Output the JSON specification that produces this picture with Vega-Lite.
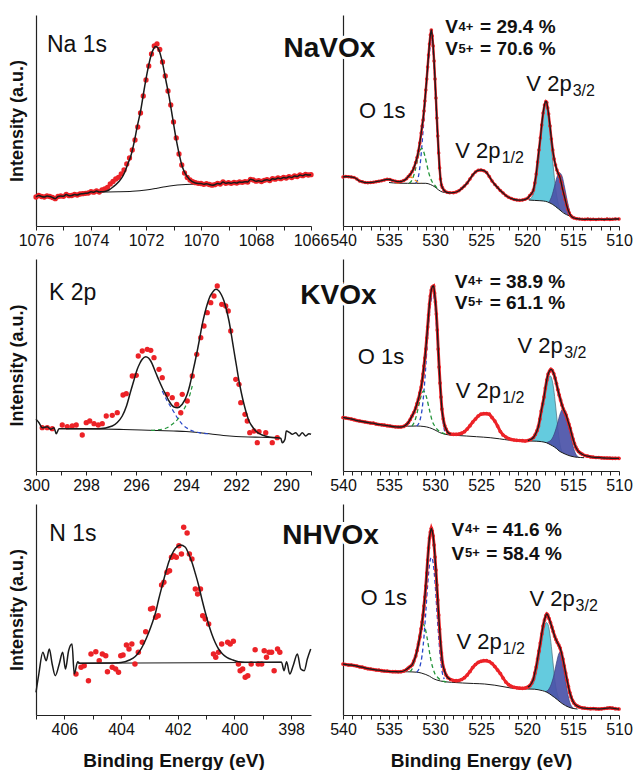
{
  "$schema": "https://vega.github.io/schema/vega-lite/v6.json",
  "background": "white",
  "padding": {"left": 8, "top": 15, "right": 10, "bottom": 0},
  "bounds": "flush",
  "columns": 2,
  "spacing": {"row": 33, "column": 32},
  "config": {
    "font": "Liberation Sans",
    "view": {"stroke": null},
    "axis": {
      "grid": false,
      "domainColor": "#222",
      "domainWidth": 1.2,
      "tickColor": "#222",
      "tickSize": 4,
      "labelFontSize": 16,
      "labelColor": "#111",
      "labelPadding": 2,
      "labelFlush": false,
      "labelOverlap": false,
      "titleFontSize": 19,
      "titleFontWeight": "bold",
      "titleColor": "#111"
    }
  },
  "datasets": {
    "na_pts": [
      {"x":1076.0,"y":29},{"x":1075.9,"y":30.5},{"x":1075.8,"y":29.5},{"x":1075.7,"y":29},{"x":1075.6,"y":30},{"x":1075.5,"y":29.5},{"x":1075.4,"y":28.5},{"x":1075.3,"y":27.3},{"x":1075.2,"y":29.5},{"x":1075.1,"y":30},{"x":1075.0,"y":29.7},{"x":1074.9,"y":31.5},{"x":1074.8,"y":30.3},{"x":1074.7,"y":30.5},{"x":1074.6,"y":31.5},{"x":1074.5,"y":31},{"x":1074.4,"y":32},{"x":1074.3,"y":32.3},{"x":1074.2,"y":32.7},{"x":1074.1,"y":33},{"x":1074.0,"y":34.3},{"x":1073.9,"y":33.8},{"x":1073.8,"y":35},{"x":1073.7,"y":34},{"x":1073.6,"y":36},{"x":1073.5,"y":37},{"x":1073.4,"y":38.7},{"x":1073.3,"y":42},{"x":1073.2,"y":44.5},{"x":1073.1,"y":47},{"x":1073.0,"y":48.7},{"x":1072.9,"y":52},{"x":1072.8,"y":56},{"x":1072.7,"y":62},{"x":1072.6,"y":68},{"x":1072.5,"y":76},{"x":1072.4,"y":86},{"x":1072.3,"y":99},{"x":1072.2,"y":113},{"x":1072.1,"y":130},{"x":1072.0,"y":146},{"x":1071.9,"y":160},{"x":1071.8,"y":172},{"x":1071.7,"y":180},{"x":1071.6,"y":182},{"x":1071.5,"y":176.5},{"x":1071.4,"y":164},{"x":1071.3,"y":150},{"x":1071.2,"y":135},{"x":1071.1,"y":121},{"x":1071.0,"y":104},{"x":1070.9,"y":88},{"x":1070.8,"y":72},{"x":1070.7,"y":61},{"x":1070.6,"y":53},{"x":1070.5,"y":48.5},{"x":1070.4,"y":46},{"x":1070.3,"y":44.3},{"x":1070.2,"y":43.3},{"x":1070.1,"y":42.7},
      {"x":1070.0,"y":42.5},{"x":1069.9,"y":41.7},{"x":1069.8,"y":42.3},{"x":1069.7,"y":41.5},{"x":1069.6,"y":40.8},{"x":1069.5,"y":41.3},{"x":1069.4,"y":42.5},{"x":1069.3,"y":42},{"x":1069.2,"y":44},{"x":1069.1,"y":42.7},{"x":1069.0,"y":43.3},{"x":1068.9,"y":42.7},{"x":1068.8,"y":43.5},{"x":1068.7,"y":43},{"x":1068.6,"y":44},{"x":1068.5,"y":43.7},{"x":1068.4,"y":44.3},{"x":1068.3,"y":44},{"x":1068.2,"y":46.7},{"x":1068.1,"y":46},{"x":1068.0,"y":44.8},{"x":1067.9,"y":45.3},{"x":1067.8,"y":44.5},{"x":1067.7,"y":45.7},{"x":1067.6,"y":46.3},{"x":1067.5,"y":45.5},{"x":1067.4,"y":47.3},{"x":1067.3,"y":46.8},{"x":1067.2,"y":48},{"x":1067.1,"y":47.3},{"x":1067.0,"y":48.5},{"x":1066.9,"y":48},{"x":1066.8,"y":49.3},{"x":1066.7,"y":48.5},{"x":1066.6,"y":50},{"x":1066.5,"y":49.5},{"x":1066.4,"y":51},{"x":1066.3,"y":50.3},{"x":1066.2,"y":51.5},{"x":1066.1,"y":51},{"x":1066.0,"y":51.3}
    ],
    "na_line": [
      {"x":1076.0,"y":29},{"x":1075.9,"y":30.5},{"x":1075.8,"y":29.5},{"x":1075.7,"y":29},{"x":1075.6,"y":30},{"x":1075.5,"y":29.5},{"x":1075.4,"y":28.5},{"x":1075.3,"y":27.3},{"x":1075.2,"y":29.5},{"x":1075.1,"y":30},{"x":1075.0,"y":29.7},{"x":1074.9,"y":31.5},{"x":1074.8,"y":30.3},{"x":1074.7,"y":30.5},{"x":1074.6,"y":31.5},{"x":1074.5,"y":31},{"x":1074.4,"y":32},{"x":1074.3,"y":32.3},{"x":1074.2,"y":32.7},{"x":1074.1,"y":33},{"x":1074.0,"y":34.3},{"x":1073.9,"y":33.8},{"x":1073.8,"y":35},{"x":1073.7,"y":34},{"x":1073.6,"y":34.3},
      {"x":1073.5,"y":34.5},{"x":1073.35,"y":36},{"x":1073.2,"y":39},{"x":1073.0,"y":44},{"x":1072.85,"y":49.5},{"x":1072.74,"y":56},{"x":1072.65,"y":63},{"x":1072.56,"y":69.3},{"x":1072.44,"y":82.7},{"x":1072.32,"y":99.3},{"x":1072.19,"y":116},{"x":1072.07,"y":136},{"x":1071.95,"y":154.3},{"x":1071.83,"y":169.3},{"x":1071.72,"y":177.5},{"x":1071.65,"y":179.5},{"x":1071.58,"y":178.5},{"x":1071.53,"y":176},{"x":1071.41,"y":164.3},{"x":1071.28,"y":146},{"x":1071.16,"y":129.3},{"x":1071.04,"y":109.3},{"x":1070.92,"y":89.3},{"x":1070.8,"y":72.7},{"x":1070.68,"y":59.3},{"x":1070.5,"y":49.3},{"x":1070.32,"y":44.3},{"x":1070.1,"y":42.5},
      {"x":1070.0,"y":42.5},{"x":1069.9,"y":41.7},{"x":1069.8,"y":42.3},{"x":1069.7,"y":41.5},{"x":1069.6,"y":40.8},{"x":1069.5,"y":41.3},{"x":1069.4,"y":42.5},{"x":1069.3,"y":42},{"x":1069.2,"y":44},{"x":1069.1,"y":42.7},{"x":1069.0,"y":43.3},{"x":1068.9,"y":42.7},{"x":1068.8,"y":43.5},{"x":1068.7,"y":43},{"x":1068.6,"y":44},{"x":1068.5,"y":43.7},{"x":1068.4,"y":44.3},{"x":1068.3,"y":44},{"x":1068.2,"y":46.7},{"x":1068.1,"y":46},{"x":1068.0,"y":44.8},{"x":1067.9,"y":45.3},{"x":1067.8,"y":44.5},{"x":1067.7,"y":45.7},{"x":1067.6,"y":46.3},{"x":1067.5,"y":45.5},{"x":1067.4,"y":47.3},{"x":1067.3,"y":46.8},{"x":1067.2,"y":48},{"x":1067.1,"y":47.3},{"x":1067.0,"y":48.5},{"x":1066.9,"y":48},{"x":1066.8,"y":49.3},{"x":1066.7,"y":48.5},{"x":1066.6,"y":50},{"x":1066.5,"y":49.5},{"x":1066.4,"y":51},{"x":1066.3,"y":50.3},{"x":1066.2,"y":51.5},{"x":1066.1,"y":51},{"x":1066.0,"y":51.3}
    ],
    "na_bg": [
      {"x":1073.6,"y":34},{"x":1073.0,"y":34.2},{"x":1072.5,"y":34.7},{"x":1072.0,"y":36},{"x":1071.6,"y":37.8},{"x":1071.3,"y":39.3},{"x":1071.0,"y":40.5},{"x":1070.7,"y":41.3},{"x":1070.3,"y":41.8},{"x":1070.0,"y":42}
    ],
    "k_pts": [
      {"x":299.75,"y":43.3},{"x":299.55,"y":43.3},{"x":299.35,"y":42.3},{"x":298.95,"y":46},{"x":298.75,"y":44.3},{"x":298.55,"y":45},{"x":298.39,"y":46},{"x":298.15,"y":36},{"x":297.99,"y":48.3},{"x":297.85,"y":50},{"x":297.68,"y":47.3},{"x":297.51,"y":46},{"x":297.35,"y":47.3},{"x":297.19,"y":55},{"x":296.95,"y":55.7},{"x":296.75,"y":58.3},{"x":296.52,"y":76},{"x":296.39,"y":77.3},{"x":296.15,"y":95},{"x":295.99,"y":95.7},{"x":295.91,"y":115},{"x":295.75,"y":120},{"x":295.55,"y":121.7},{"x":295.41,"y":120.7},{"x":295.28,"y":113.3},{"x":295.08,"y":101.7},{"x":294.95,"y":93.3},{"x":294.75,"y":76.7},{"x":294.55,"y":73.3},{"x":294.37,"y":66.7},{"x":294.21,"y":58.3},{"x":294.15,"y":76.7},{"x":293.95,"y":70},{"x":293.75,"y":95},{"x":293.57,"y":116.7},{"x":293.41,"y":133.3},{"x":293.28,"y":145},{"x":293.15,"y":158.3},{"x":293.01,"y":168.3},{"x":292.88,"y":175},{"x":292.75,"y":185},{"x":292.57,"y":166.7},{"x":292.41,"y":165},{"x":292.31,"y":160},{"x":292.21,"y":140},{"x":292.01,"y":91.7},{"x":291.88,"y":86.7},{"x":291.81,"y":68.3},{"x":291.64,"y":56.7},{"x":291.55,"y":50},{"x":291.45,"y":38.3},{"x":291.28,"y":40},{"x":291.15,"y":28.3},{"x":291.08,"y":39.3},{"x":290.81,"y":38.3},{"x":290.55,"y":28.3},{"x":290.35,"y":33.3}
    ],
    "k_line": [
      {"x":300.0,"y":51.7},{"x":299.88,"y":48.3},{"x":299.75,"y":43.3},{"x":299.55,"y":44.3},{"x":299.41,"y":41.7},{"x":299.28,"y":43.3},{"x":299.19,"y":37.3},{"x":299.08,"y":42.3},{"x":298.81,"y":42.3},{"x":297.48,"y":42.3},{"x":296.95,"y":45},{"x":296.75,"y":48.5},{"x":296.55,"y":55},{"x":296.38,"y":65},{"x":296.21,"y":80},{"x":296.08,"y":91},{"x":295.95,"y":101.7},{"x":295.85,"y":107.5},{"x":295.75,"y":111.7},{"x":295.61,"y":114.3},{"x":295.5,"y":113},{"x":295.41,"y":110},{"x":295.21,"y":98.3},{"x":295.08,"y":90.5},{"x":294.95,"y":83.3},{"x":294.8,"y":76},{"x":294.68,"y":70},{"x":294.48,"y":64},{"x":294.35,"y":63.3},{"x":294.15,"y":66.7},{"x":293.95,"y":76.7},{"x":293.85,"y":85.5},{"x":293.75,"y":96.7},{"x":293.65,"y":108},{"x":293.55,"y":120},{"x":293.45,"y":133},{"x":293.35,"y":146.7},{"x":293.25,"y":157.5},{"x":293.15,"y":166.7},{"x":293.05,"y":174},{"x":292.95,"y":178.3},{"x":292.81,"y":181.7},{"x":292.68,"y":180},{"x":292.58,"y":176},{"x":292.48,"y":170},{"x":292.38,"y":161},{"x":292.28,"y":150},{"x":292.18,"y":135.5},{"x":292.08,"y":120},{"x":291.98,"y":105},{"x":291.88,"y":90},{"x":291.78,"y":77.5},{"x":291.68,"y":66.7},{"x":291.58,"y":57.5},{"x":291.48,"y":50},{"x":291.35,"y":44.5},{"x":291.21,"y":40},{"x":290.95,"y":36},{"x":290.68,"y":34},{"x":290.41,"y":33.3},{"x":290.21,"y":32.7},{"x":290.15,"y":28.3},{"x":290.04,"y":31.7},{"x":289.99,"y":40},{"x":289.85,"y":38.3},{"x":289.75,"y":36.7},{"x":289.61,"y":38.3},{"x":289.48,"y":35},{"x":289.35,"y":38.3},{"x":289.21,"y":35},{"x":289.08,"y":37.3},{"x":289.0,"y":36.7}
    ],
    "k_bg": [
      {"x":298.8,"y":42.3},{"x":297.5,"y":42},{"x":296.5,"y":41.5},{"x":295.5,"y":40.8},{"x":294.5,"y":40},{"x":294.0,"y":39.5},{"x":293.5,"y":38.5},{"x":293.0,"y":37},{"x":292.5,"y":35.5},{"x":292.0,"y":34.5},{"x":291.5,"y":34},{"x":291.0,"y":33.8},{"x":290.4,"y":33.3}
    ],
    "k_comp": [
      {"comp":"K 2p1/2","x":294.95,"y":80},{"comp":"K 2p1/2","x":294.75,"y":70},{"comp":"K 2p1/2","x":294.55,"y":61.7},{"comp":"K 2p1/2","x":294.35,"y":53.3},{"comp":"K 2p1/2","x":294.15,"y":46.7},{"comp":"K 2p1/2","x":293.88,"y":41.7},{"comp":"K 2p1/2","x":293.48,"y":38.3},{"comp":"K 2p1/2","x":293.1,"y":37.2},
      {"comp":"K 2p3/2","x":295.4,"y":40.6},{"comp":"K 2p3/2","x":295.21,"y":41},{"comp":"K 2p3/2","x":294.81,"y":42.7},{"comp":"K 2p3/2","x":294.55,"y":46.7},{"comp":"K 2p3/2","x":294.28,"y":53.3},{"comp":"K 2p3/2","x":294.08,"y":61.7},{"comp":"K 2p3/2","x":293.88,"y":73.3},{"comp":"K 2p3/2","x":293.75,"y":85}
    ],
    "n_pts": [
      {"x":405.59,"y":41},{"x":405.41,"y":47.7},{"x":405.3,"y":49.3},{"x":405.15,"y":34.3},{"x":405.06,"y":61},{"x":404.89,"y":63.3},{"x":404.77,"y":54.3},{"x":404.66,"y":61},{"x":404.54,"y":59.3},{"x":404.48,"y":43.3},{"x":404.31,"y":47.7},{"x":404.19,"y":46},{"x":404.09,"y":42.7},{"x":404.01,"y":59.3},{"x":403.93,"y":60},{"x":403.81,"y":70},{"x":403.72,"y":66},{"x":403.62,"y":71},{"x":403.51,"y":51},{"x":403.39,"y":62.7},{"x":403.25,"y":72.7},{"x":403.13,"y":83.3},{"x":402.96,"y":106},{"x":402.88,"y":106.7},{"x":402.78,"y":97.7},{"x":402.69,"y":99.3},{"x":402.57,"y":130},{"x":402.49,"y":132.7},{"x":402.38,"y":142.7},{"x":402.29,"y":144.3},{"x":402.22,"y":157.7},{"x":402.14,"y":159.3},{"x":402.05,"y":157.7},{"x":401.96,"y":169.3},{"x":401.87,"y":161},{"x":401.79,"y":187.7},{"x":401.67,"y":182},{"x":401.59,"y":161},{"x":401.5,"y":156},{"x":401.38,"y":126},{"x":401.3,"y":121},{"x":401.2,"y":126},{"x":401.12,"y":99.3},{"x":401.03,"y":96},{"x":400.91,"y":91},{"x":400.74,"y":61},{"x":400.66,"y":57.7},{"x":400.56,"y":62.7},{"x":400.45,"y":71},{"x":400.24,"y":72.7},{"x":400.15,"y":71},{"x":400.04,"y":73.7},{"x":399.86,"y":51},{"x":399.8,"y":44.3},{"x":399.71,"y":46},{"x":399.62,"y":37.7},{"x":399.53,"y":39.3},{"x":399.41,"y":51},{"x":399.27,"y":65.3},{"x":399.16,"y":51},{"x":399.04,"y":51},{"x":398.95,"y":64.3},{"x":398.87,"y":57.7},{"x":398.78,"y":62.7},{"x":398.69,"y":62.7},{"x":398.6,"y":44.3},{"x":398.48,"y":66},{"x":398.4,"y":62.7}
    ],
    "n_line": [
      {"x":407.0,"y":22.7},{"x":406.9,"y":41},{"x":406.76,"y":62.7},{"x":406.64,"y":54.3},{"x":406.53,"y":66},{"x":406.43,"y":51},{"x":406.32,"y":39.3},{"x":406.18,"y":51},{"x":406.06,"y":62.7},{"x":405.96,"y":46},{"x":405.85,"y":64.3},{"x":405.73,"y":71},{"x":405.65,"y":41},{"x":405.53,"y":53.3},{"x":405.45,"y":51.8},{"x":404.5,"y":52},{"x":404.0,"y":52.5},{"x":403.7,"y":55},{"x":403.5,"y":58.5},{"x":403.37,"y":62.7},{"x":403.2,"y":71},{"x":403.02,"y":82.7},{"x":402.9,"y":92},{"x":402.78,"y":102.7},{"x":402.67,"y":116},{"x":402.55,"y":129.3},{"x":402.43,"y":142},{"x":402.32,"y":152.7},{"x":402.2,"y":161},{"x":402.08,"y":166.7},{"x":401.91,"y":170},{"x":401.73,"y":167.7},{"x":401.62,"y":161.5},{"x":401.5,"y":152.7},{"x":401.38,"y":141.5},{"x":401.26,"y":129.3},{"x":401.15,"y":116},{"x":401.03,"y":102.7},{"x":400.92,"y":91.5},{"x":400.8,"y":81},{"x":400.68,"y":72.5},{"x":400.56,"y":66},{"x":400.42,"y":61},{"x":400.27,"y":57.7},{"x":400.05,"y":55},{"x":399.86,"y":53.3},{"x":399.4,"y":52.7},{"x":398.34,"y":52.7},{"x":398.25,"y":44.3},{"x":398.16,"y":53.3},{"x":398.05,"y":41},{"x":397.93,"y":49.3},{"x":397.78,"y":61},{"x":397.66,"y":46},{"x":397.54,"y":44.3},{"x":397.43,"y":56},{"x":397.31,"y":66}
    ],
    "n_bg": [
      {"x":405.53,"y":51.7},{"x":398.34,"y":52.7}
    ],
    "navox": [
      {"x":540.0,"y":49},{"x":539.7,"y":49.5},{"x":539.4,"y":49.3},{"x":539.1,"y":49},{"x":538.8,"y":48.5},{"x":538.5,"y":47},{"x":538.2,"y":45},{"x":537.9,"y":44.3},{"x":537.6,"y":43.5},{"x":537.3,"y":43.3},{"x":537.0,"y":43.5},{"x":536.7,"y":43.8},{"x":536.4,"y":44.3},{"x":536.1,"y":44.8},{"x":535.8,"y":45.3},{"x":535.5,"y":46},{"x":535.2,"y":46.7},{"x":534.9,"y":46.5},{"x":534.6,"y":45.5},{"x":534.3,"y":44.8},{"x":534.0,"y":44.3},{"x":533.7,"y":44.5},{"x":533.4,"y":45.5},{"x":533.1,"y":47.3},{"x":532.9,"y":49.5},{"x":532.7,"y":51.5},{"x":532.5,"y":54.3},{"x":532.3,"y":58},{"x":532.1,"y":63.5},{"x":531.95,"y":68.5},{"x":531.8,"y":75},{"x":531.65,"y":83},{"x":531.5,"y":93},{"x":531.4,"y":100},{"x":531.3,"y":106},{"x":531.2,"y":115},{"x":531.1,"y":125},{"x":531.0,"y":136},{"x":530.9,"y":147},{"x":530.8,"y":159},{"x":530.7,"y":171},{"x":530.6,"y":182},{"x":530.5,"y":191},{"x":530.4,"y":196},{"x":530.3,"y":190},{"x":530.2,"y":180},{"x":530.1,"y":165},{"x":530.0,"y":147},{"x":529.9,"y":128},{"x":529.8,"y":108},{"x":529.7,"y":90},{"x":529.6,"y":73},{"x":529.5,"y":58},{"x":529.4,"y":47},{"x":529.3,"y":41},{"x":529.2,"y":38.5},{"x":529.0,"y":35.5},{"x":528.7,"y":33.7},{"x":528.4,"y":33.2},{"x":528.0,"y":33.3},{"x":527.7,"y":34},{"x":527.4,"y":35.3},{"x":527.1,"y":37.5},{"x":526.8,"y":40},{"x":526.5,"y":43},{"x":526.2,"y":47},{"x":525.9,"y":51},{"x":525.6,"y":54},{"x":525.3,"y":55.7},{"x":525.0,"y":56},{"x":524.7,"y":55.3},{"x":524.4,"y":53.5},{"x":524.1,"y":49.5},{"x":523.8,"y":45},{"x":523.5,"y":41.5},{"x":523.2,"y":38.5},{"x":522.9,"y":35.5},{"x":522.6,"y":33},{"x":522.3,"y":30.5},{"x":522.0,"y":28.7},{"x":521.7,"y":27.5},{"x":521.4,"y":26.5},{"x":521.1,"y":26},{"x":520.8,"y":25.8},{"x":520.5,"y":26},{"x":520.2,"y":26.7},{"x":519.9,"y":28},{"x":519.7,"y":30.5},{"x":519.5,"y":32.5},{"x":519.3,"y":36},{"x":519.15,"y":43},{"x":519.0,"y":52},{"x":518.85,"y":64},{"x":518.7,"y":76},{"x":518.55,"y":88},{"x":518.4,"y":101},{"x":518.25,"y":113},{"x":518.1,"y":121},{"x":517.95,"y":124.5},{"x":517.85,"y":123.5},{"x":517.75,"y":118},{"x":517.65,"y":112},{"x":517.5,"y":100},{"x":517.35,"y":87},{"x":517.2,"y":76},{"x":517.05,"y":67},{"x":516.9,"y":61},{"x":516.75,"y":56},{"x":516.6,"y":52.5},{"x":516.45,"y":49.5},{"x":516.3,"y":44},{"x":516.15,"y":37.5},{"x":516.0,"y":32},{"x":515.85,"y":26.5},{"x":515.7,"y":21},{"x":515.55,"y":16.5},{"x":515.4,"y":13},{"x":515.25,"y":10.5},{"x":515.1,"y":9},{"x":514.9,"y":8},{"x":514.6,"y":7.3},{"x":514.3,"y":7},{"x":514.0,"y":6.8},{"x":513.7,"y":6.6},{"x":513.4,"y":6.9},{"x":513.1,"y":6.6},{"x":512.8,"y":6.8},{"x":512.5,"y":6.5},{"x":512.2,"y":6.8},{"x":511.9,"y":6.7},{"x":511.6,"y":6.5},{"x":511.3,"y":6.9},{"x":511.0,"y":6.6},{"x":510.7,"y":6.8},{"x":510.4,"y":7},{"x":510.0,"y":7}
    ],
    "navox_bg": [
      {"x":535.0,"y":43.5},{"x":534.0,"y":42.8},{"x":533.0,"y":42.7},{"x":532.0,"y":42.7},{"x":531.0,"y":42.7},{"x":530.5,"y":41.5},{"x":530.0,"y":39},{"x":529.6,"y":36},{"x":529.2,"y":34},{"x":528.8,"y":33.5}
    ],
    "navox_bg2": [
      {"x":519.8,"y":26},{"x":519.2,"y":25.6},{"x":518.6,"y":25.3},{"x":518.2,"y":25},{"x":517.8,"y":24.2},{"x":517.5,"y":23},{"x":517.2,"y":21.5},{"x":516.9,"y":19.5},{"x":516.6,"y":17.3},{"x":516.3,"y":15},{"x":516.0,"y":12.8},{"x":515.7,"y":11.3},{"x":515.4,"y":10.2},{"x":515.1,"y":9.4},{"x":514.8,"y":8.8},{"x":514.5,"y":8}
    ],
    "navox_o": [
      {"comp":"lattice O","x":532.1,"y":42.7},{"comp":"lattice O","x":531.9,"y":46},{"comp":"lattice O","x":531.7,"y":55},{"comp":"lattice O","x":531.5,"y":72},{"comp":"lattice O","x":531.3,"y":95},{"comp":"lattice O","x":531.1,"y":120},{"comp":"lattice O","x":530.9,"y":145},{"comp":"lattice O","x":530.7,"y":165},{"comp":"lattice O","x":530.5,"y":181},{"comp":"lattice O","x":530.4,"y":185},{"comp":"lattice O","x":530.3,"y":182},{"comp":"lattice O","x":530.1,"y":160},{"comp":"lattice O","x":529.9,"y":122},{"comp":"lattice O","x":529.7,"y":85},{"comp":"lattice O","x":529.5,"y":55},{"comp":"lattice O","x":529.3,"y":40},{"comp":"lattice O","x":529.1,"y":35},
      {"comp":"OH","x":532.8,"y":42.7},{"comp":"OH","x":532.5,"y":46},{"comp":"OH","x":532.2,"y":54},{"comp":"OH","x":532.0,"y":62},{"comp":"OH","x":531.8,"y":70},{"comp":"OH","x":531.6,"y":76},{"comp":"OH","x":531.45,"y":77.7},{"comp":"OH","x":531.3,"y":76},{"comp":"OH","x":531.1,"y":70},{"comp":"OH","x":530.9,"y":62},{"comp":"OH","x":530.7,"y":54},{"comp":"OH","x":530.5,"y":48},{"comp":"OH","x":530.3,"y":44},{"comp":"OH","x":530.0,"y":40.5},{"comp":"OH","x":529.8,"y":38},
      {"comp":"H2O","x":534.2,"y":42.8},{"comp":"H2O","x":533.8,"y":43.5},{"comp":"H2O","x":533.4,"y":45.5},{"comp":"H2O","x":533.0,"y":48},{"comp":"H2O","x":532.7,"y":49},{"comp":"H2O","x":532.4,"y":48},{"comp":"H2O","x":532.1,"y":45.5},{"comp":"H2O","x":531.8,"y":43.5},{"comp":"H2O","x":531.5,"y":42.8}
    ],
    "navox_v": [
      {"comp":"V5+","x":519.8,"y":26.5,"bg":26},{"comp":"V5+","x":519.4,"y":30,"bg":25.7},{"comp":"V5+","x":519.0,"y":45,"bg":25.5},{"comp":"V5+","x":518.6,"y":78,"bg":25.3},{"comp":"V5+","x":518.3,"y":108,"bg":25},{"comp":"V5+","x":518.0,"y":121,"bg":24.6},{"comp":"V5+","x":517.9,"y":123,"bg":24.4},{"comp":"V5+","x":517.7,"y":113,"bg":24},{"comp":"V5+","x":517.4,"y":85,"bg":22.7},{"comp":"V5+","x":517.1,"y":55,"bg":21},{"comp":"V5+","x":516.8,"y":32,"bg":18.5},{"comp":"V5+","x":516.5,"y":19,"bg":16.5},{"comp":"V5+","x":516.2,"y":14.5,"bg":14},
      {"comp":"V4+","x":517.6,"y":24,"bg":23.5},{"comp":"V4+","x":517.3,"y":30,"bg":22.3},{"comp":"V4+","x":517.0,"y":40,"bg":20.5},{"comp":"V4+","x":516.7,"y":50,"bg":18.2},{"comp":"V4+","x":516.45,"y":53,"bg":16.5},{"comp":"V4+","x":516.2,"y":50,"bg":14.7},{"comp":"V4+","x":515.9,"y":38,"bg":12.5},{"comp":"V4+","x":515.6,"y":24,"bg":11},{"comp":"V4+","x":515.3,"y":13,"bg":10},{"comp":"V4+","x":515.0,"y":9.5,"bg":9.2}
    ],
    "kvox": [
      {"x":540.0,"y":53.5},{"x":539.7,"y":53},{"x":539.4,"y":52.5},{"x":539.1,"y":52},{"x":538.8,"y":51.3},{"x":538.5,"y":50.5},{"x":538.2,"y":50},{"x":537.9,"y":49.5},{"x":537.6,"y":49},{"x":537.3,"y":48.5},{"x":537.0,"y":48},{"x":536.7,"y":47.8},{"x":536.4,"y":47},{"x":536.1,"y":46.5},{"x":535.8,"y":46.2},{"x":535.5,"y":45.8},{"x":535.2,"y":45.3},{"x":534.9,"y":45},{"x":534.6,"y":44.5},{"x":534.3,"y":44.2},{"x":534.0,"y":44},{"x":533.7,"y":44},{"x":533.4,"y":44.6},{"x":533.1,"y":46.5},{"x":532.9,"y":48.5},{"x":532.7,"y":51.5},{"x":532.5,"y":55},{"x":532.3,"y":58.5},{"x":532.1,"y":63},{"x":531.95,"y":67.5},{"x":531.8,"y":72},{"x":531.65,"y":78},{"x":531.5,"y":84},{"x":531.4,"y":90},{"x":531.3,"y":97},{"x":531.2,"y":105},{"x":531.1,"y":113},{"x":531.0,"y":122},{"x":530.9,"y":133},{"x":530.8,"y":144},{"x":530.7,"y":156},{"x":530.6,"y":167},{"x":530.5,"y":175},{"x":530.4,"y":181},{"x":530.3,"y":184},{"x":530.15,"y":185},{"x":530.05,"y":178},{"x":529.95,"y":169},{"x":529.85,"y":157},{"x":529.75,"y":141},{"x":529.65,"y":122},{"x":529.55,"y":104},{"x":529.45,"y":88},{"x":529.35,"y":74},{"x":529.25,"y":62},{"x":529.1,"y":52},{"x":528.95,"y":45.5},{"x":528.8,"y":42},{"x":528.6,"y":38.5},{"x":528.3,"y":37},{"x":528.0,"y":36.7},{"x":527.7,"y":36.7},{"x":527.4,"y":37},{"x":527.1,"y":37.8},{"x":526.8,"y":39.3},{"x":526.5,"y":42},{"x":526.2,"y":45.3},{"x":525.9,"y":49},{"x":525.6,"y":52},{"x":525.3,"y":55},{"x":525.0,"y":56.8},{"x":524.7,"y":57.3},{"x":524.4,"y":57.3},{"x":524.1,"y":56.8},{"x":523.8,"y":53.5},{"x":523.5,"y":50},{"x":523.2,"y":45},{"x":522.9,"y":39.5},{"x":522.6,"y":36},{"x":522.3,"y":34},{"x":522.0,"y":32.5},{"x":521.7,"y":31.5},{"x":521.4,"y":31},{"x":521.1,"y":30.7},{"x":520.8,"y":30.5},{"x":520.5,"y":30.3},{"x":520.2,"y":30},{"x":519.9,"y":30.5},{"x":519.6,"y":31.5},{"x":519.3,"y":33.5},{"x":519.1,"y":36.5},{"x":518.9,"y":40.5},{"x":518.75,"y":45},{"x":518.6,"y":52},{"x":518.45,"y":60},{"x":518.3,"y":67},{"x":518.15,"y":74},{"x":518.0,"y":83},{"x":517.85,"y":91},{"x":517.7,"y":97},{"x":517.55,"y":100},{"x":517.4,"y":101.7},{"x":517.25,"y":100.5},{"x":517.1,"y":97.5},{"x":516.95,"y":93},{"x":516.8,"y":87.5},{"x":516.65,"y":81.5},{"x":516.5,"y":76},{"x":516.35,"y":71},{"x":516.2,"y":66},{"x":516.05,"y":62},{"x":515.9,"y":59},{"x":515.75,"y":56},{"x":515.6,"y":51.5},{"x":515.45,"y":47},{"x":515.3,"y":42.5},{"x":515.15,"y":37},{"x":515.0,"y":32},{"x":514.85,"y":27.5},{"x":514.7,"y":24},{"x":514.55,"y":21.5},{"x":514.4,"y":19.5},{"x":514.2,"y":18},{"x":514.0,"y":16.8},{"x":513.7,"y":15.5},{"x":513.4,"y":14.8},{"x":513.1,"y":14.2},{"x":512.8,"y":13.8},{"x":512.5,"y":13.5},{"x":512.2,"y":13.5},{"x":511.9,"y":13.2},{"x":511.6,"y":13},{"x":511.3,"y":12.9},{"x":511.0,"y":12.8},{"x":510.7,"y":12.7},{"x":510.4,"y":12.7},{"x":510.0,"y":12.7}
    ],
    "kvox_bg": [
      {"x":534.0,"y":44.2},{"x":533.0,"y":44.8},{"x":532.0,"y":45},{"x":531.2,"y":44.5},{"x":530.6,"y":43.3},{"x":530.0,"y":41},{"x":529.5,"y":38.5},{"x":529.0,"y":37},{"x":528.4,"y":36},{"x":527.5,"y":35.5},{"x":526.6,"y":35},{"x":525.5,"y":34.3},{"x":524.0,"y":33.3},{"x":523.0,"y":32.2},{"x":521.9,"y":30.8},{"x":520.8,"y":30.3},{"x":519.7,"y":30},{"x":519.0,"y":29.8},{"x":518.4,"y":29.3},{"x":517.9,"y":28.3},{"x":517.5,"y":26.5},{"x":517.2,"y":25},{"x":516.8,"y":22.5},{"x":516.5,"y":20},{"x":516.1,"y":18},{"x":515.8,"y":16.7},{"x":515.3,"y":15},{"x":514.8,"y":14},{"x":514.2,"y":13.5},{"x":513.8,"y":13.3}
    ],
    "kvox_o": [
      {"comp":"lattice O","x":532.0,"y":45},{"comp":"lattice O","x":531.8,"y":47},{"comp":"lattice O","x":531.6,"y":52},{"comp":"lattice O","x":531.4,"y":62},{"comp":"lattice O","x":531.2,"y":80},{"comp":"lattice O","x":531.0,"y":105},{"comp":"lattice O","x":530.8,"y":135},{"comp":"lattice O","x":530.6,"y":158},{"comp":"lattice O","x":530.4,"y":172},{"comp":"lattice O","x":530.2,"y":176},{"comp":"lattice O","x":530.0,"y":166},{"comp":"lattice O","x":529.8,"y":140},{"comp":"lattice O","x":529.6,"y":108},{"comp":"lattice O","x":529.4,"y":78},{"comp":"lattice O","x":529.2,"y":55},{"comp":"lattice O","x":529.0,"y":42},{"comp":"lattice O","x":528.9,"y":39},
      {"comp":"OH","x":532.5,"y":45},{"comp":"OH","x":532.2,"y":50},{"comp":"OH","x":532.0,"y":56},{"comp":"OH","x":531.8,"y":64},{"comp":"OH","x":531.6,"y":72},{"comp":"OH","x":531.4,"y":78},{"comp":"OH","x":531.25,"y":80},{"comp":"OH","x":531.1,"y":78.5},{"comp":"OH","x":530.9,"y":73},{"comp":"OH","x":530.7,"y":65},{"comp":"OH","x":530.5,"y":57},{"comp":"OH","x":530.3,"y":50},{"comp":"OH","x":530.0,"y":44.5},{"comp":"OH","x":529.7,"y":41},{"comp":"OH","x":529.4,"y":39},{"comp":"OH","x":529.0,"y":37.3},{"comp":"OH","x":528.8,"y":36.8}
    ],
    "kvox_v": [
      {"comp":"V5+","x":519.6,"y":31,"bg":30},{"comp":"V5+","x":519.3,"y":33,"bg":29.9},{"comp":"V5+","x":519.0,"y":37,"bg":29.8},{"comp":"V5+","x":518.7,"y":46,"bg":29.6},{"comp":"V5+","x":518.4,"y":59,"bg":29.3},{"comp":"V5+","x":518.1,"y":74,"bg":28.8},{"comp":"V5+","x":517.8,"y":88,"bg":28.3},{"comp":"V5+","x":517.6,"y":94,"bg":27.5},{"comp":"V5+","x":517.45,"y":95,"bg":26.8},{"comp":"V5+","x":517.3,"y":92,"bg":25.8},{"comp":"V5+","x":517.1,"y":82,"bg":24.5},{"comp":"V5+","x":516.9,"y":66,"bg":23},{"comp":"V5+","x":516.7,"y":48,"bg":21.5},{"comp":"V5+","x":516.5,"y":32,"bg":20},{"comp":"V5+","x":516.3,"y":22,"bg":19},{"comp":"V5+","x":516.1,"y":18.5,"bg":18},
      {"comp":"V4+","x":517.9,"y":28.5,"bg":28.3},{"comp":"V4+","x":517.6,"y":29.5,"bg":27},{"comp":"V4+","x":517.3,"y":32,"bg":25.8},{"comp":"V4+","x":517.0,"y":38,"bg":24},{"comp":"V4+","x":516.7,"y":47,"bg":21.5},{"comp":"V4+","x":516.4,"y":57,"bg":19.5},{"comp":"V4+","x":516.15,"y":61.5,"bg":18.2},{"comp":"V4+","x":515.9,"y":59,"bg":17},{"comp":"V4+","x":515.6,"y":50,"bg":16.2},{"comp":"V4+","x":515.3,"y":38,"bg":15},{"comp":"V4+","x":515.0,"y":25,"bg":14.4},{"comp":"V4+","x":514.7,"y":17,"bg":14},{"comp":"V4+","x":514.4,"y":14,"bg":13.7}
    ],
    "nhvox": [
      {"x":540.0,"y":51},{"x":539.7,"y":50.5},{"x":539.4,"y":50},{"x":539.1,"y":50},{"x":538.8,"y":49.5},{"x":538.5,"y":49},{"x":538.2,"y":48.2},{"x":537.9,"y":47.8},{"x":537.6,"y":47},{"x":537.3,"y":46.3},{"x":537.0,"y":46},{"x":536.7,"y":45.5},{"x":536.4,"y":45},{"x":536.1,"y":44.8},{"x":535.8,"y":44.3},{"x":535.5,"y":44},{"x":535.2,"y":43.8},{"x":534.9,"y":43.5},{"x":534.6,"y":43.3},{"x":534.3,"y":43.3},{"x":534.0,"y":43.2},{"x":533.7,"y":43.3},{"x":533.4,"y":44},{"x":533.1,"y":45.5},{"x":532.9,"y":47},{"x":532.7,"y":48.5},{"x":532.5,"y":50},{"x":532.3,"y":54},{"x":532.1,"y":59},{"x":531.95,"y":64.5},{"x":531.8,"y":71},{"x":531.65,"y":78},{"x":531.5,"y":86.5},{"x":531.4,"y":93},{"x":531.3,"y":100},{"x":531.2,"y":109},{"x":531.1,"y":118},{"x":531.0,"y":129},{"x":530.9,"y":142},{"x":530.8,"y":155},{"x":530.7,"y":167},{"x":530.6,"y":177},{"x":530.5,"y":183},{"x":530.4,"y":186.7},{"x":530.3,"y":184},{"x":530.2,"y":179},{"x":530.1,"y":170},{"x":530.0,"y":158},{"x":529.9,"y":145},{"x":529.8,"y":130},{"x":529.7,"y":115},{"x":529.6,"y":100},{"x":529.5,"y":86},{"x":529.4,"y":73},{"x":529.3,"y":62},{"x":529.2,"y":53},{"x":529.0,"y":45},{"x":528.8,"y":40},{"x":528.6,"y":37.3},{"x":528.3,"y":35.5},{"x":528.0,"y":34.5},{"x":527.7,"y":34.3},{"x":527.4,"y":34.5},{"x":527.1,"y":35.5},{"x":526.8,"y":37.3},{"x":526.5,"y":40},{"x":526.2,"y":43.5},{"x":525.9,"y":47.5},{"x":525.6,"y":50.5},{"x":525.3,"y":52.7},{"x":525.0,"y":53.7},{"x":524.7,"y":54.3},{"x":524.4,"y":54.3},{"x":524.1,"y":53.5},{"x":523.8,"y":51.5},{"x":523.5,"y":48.5},{"x":523.2,"y":45},{"x":522.9,"y":41.5},{"x":522.6,"y":37},{"x":522.3,"y":33},{"x":522.0,"y":30.3},{"x":521.7,"y":28.7},{"x":521.4,"y":27.7},{"x":521.1,"y":27.2},{"x":520.8,"y":26.8},{"x":520.5,"y":26.7},{"x":520.2,"y":27},{"x":519.9,"y":28},{"x":519.7,"y":29.3},{"x":519.5,"y":32},{"x":519.3,"y":36},{"x":519.15,"y":42},{"x":519.0,"y":48},{"x":518.85,"y":56},{"x":518.7,"y":64},{"x":518.55,"y":72},{"x":518.4,"y":81},{"x":518.25,"y":89},{"x":518.1,"y":95},{"x":517.95,"y":99.5},{"x":517.85,"y":101},{"x":517.75,"y":100},{"x":517.6,"y":96.5},{"x":517.45,"y":92.5},{"x":517.3,"y":88},{"x":517.15,"y":83.5},{"x":517.0,"y":79},{"x":516.85,"y":75.5},{"x":516.7,"y":72.5},{"x":516.55,"y":70},{"x":516.4,"y":67},{"x":516.25,"y":62},{"x":516.1,"y":56},{"x":515.95,"y":49},{"x":515.8,"y":42},{"x":515.65,"y":35},{"x":515.5,"y":28.5},{"x":515.35,"y":22.5},{"x":515.2,"y":18},{"x":515.05,"y":14.5},{"x":514.9,"y":12},{"x":514.7,"y":10},{"x":514.5,"y":8.8},{"x":514.3,"y":8},{"x":514.0,"y":7.2},{"x":513.7,"y":6.8},{"x":513.4,"y":6.5},{"x":513.1,"y":6.3},{"x":512.8,"y":6.5},{"x":512.5,"y":6.2},{"x":512.2,"y":6},{"x":511.9,"y":6.2},{"x":511.6,"y":6.5},{"x":511.3,"y":6.8},{"x":511.0,"y":7.2},{"x":510.7,"y":6.8},{"x":510.4,"y":6.3},{"x":510.0,"y":6}
    ],
    "nhvox_bg": [
      {"x":534.3,"y":43.3},{"x":533.0,"y":43.2},{"x":532.0,"y":42.8},{"x":531.5,"y":42},{"x":531.0,"y":40.5},{"x":530.6,"y":38.8},{"x":530.2,"y":36.5},{"x":529.8,"y":35},{"x":529.4,"y":34},{"x":528.9,"y":33.2},{"x":528.2,"y":32.7},{"x":527.0,"y":32},{"x":525.8,"y":31.5},{"x":524.6,"y":31},{"x":523.5,"y":29.8},{"x":522.5,"y":28.2},{"x":521.7,"y":26.9},{"x":520.8,"y":26.3},{"x":519.9,"y":26},{"x":519.2,"y":25.8},{"x":518.8,"y":25.3},{"x":518.3,"y":24.3},{"x":517.9,"y":23},{"x":517.6,"y":21.5},{"x":517.3,"y":19.5},{"x":517.0,"y":17.5},{"x":516.7,"y":15.3},{"x":516.4,"y":13},{"x":516.1,"y":11},{"x":515.8,"y":9.3},{"x":515.5,"y":8},{"x":515.2,"y":7},{"x":514.9,"y":6.4},{"x":514.5,"y":6}
    ],
    "nhvox_o": [
      {"comp":"lattice O","x":532.0,"y":42.8},{"comp":"lattice O","x":531.8,"y":45},{"comp":"lattice O","x":531.6,"y":50},{"comp":"lattice O","x":531.4,"y":60},{"comp":"lattice O","x":531.2,"y":78},{"comp":"lattice O","x":531.0,"y":103},{"comp":"lattice O","x":530.8,"y":130},{"comp":"lattice O","x":530.6,"y":150},{"comp":"lattice O","x":530.45,"y":157},{"comp":"lattice O","x":530.35,"y":157.7},{"comp":"lattice O","x":530.2,"y":152},{"comp":"lattice O","x":530.0,"y":133},{"comp":"lattice O","x":529.8,"y":105},{"comp":"lattice O","x":529.6,"y":78},{"comp":"lattice O","x":529.4,"y":56},{"comp":"lattice O","x":529.2,"y":42},{"comp":"lattice O","x":529.0,"y":36},
      {"comp":"OH","x":532.7,"y":43.5},{"comp":"OH","x":532.4,"y":48},{"comp":"OH","x":532.2,"y":55},{"comp":"OH","x":532.0,"y":64},{"comp":"OH","x":531.8,"y":75},{"comp":"OH","x":531.6,"y":85},{"comp":"OH","x":531.4,"y":90.5},{"comp":"OH","x":531.3,"y":91},{"comp":"OH","x":531.15,"y":89},{"comp":"OH","x":531.0,"y":84},{"comp":"OH","x":530.8,"y":74},{"comp":"OH","x":530.6,"y":63},{"comp":"OH","x":530.4,"y":53},{"comp":"OH","x":530.2,"y":46},{"comp":"OH","x":530.0,"y":41},{"comp":"OH","x":529.7,"y":37.5},{"comp":"OH","x":529.4,"y":35},{"comp":"OH","x":529.0,"y":33.5},{"comp":"OH","x":528.6,"y":33}
    ],
    "nhvox_v": [
      {"comp":"V5+","x":519.8,"y":26.5,"bg":26},{"comp":"V5+","x":519.5,"y":29,"bg":25.9},{"comp":"V5+","x":519.2,"y":34,"bg":25.8},{"comp":"V5+","x":518.9,"y":46,"bg":25.5},{"comp":"V5+","x":518.6,"y":62,"bg":25.2},{"comp":"V5+","x":518.3,"y":79,"bg":24.6},{"comp":"V5+","x":518.1,"y":88,"bg":24},{"comp":"V5+","x":517.9,"y":92.5,"bg":23},{"comp":"V5+","x":517.7,"y":90,"bg":22.3},{"comp":"V5+","x":517.5,"y":80,"bg":21.5},{"comp":"V5+","x":517.3,"y":64,"bg":19.5},{"comp":"V5+","x":517.1,"y":46,"bg":18.2},{"comp":"V5+","x":516.9,"y":30,"bg":16.7},{"comp":"V5+","x":516.7,"y":21,"bg":15.5},{"comp":"V5+","x":516.5,"y":16,"bg":14},
      {"comp":"V4+","x":518.0,"y":23.5,"bg":23.3},{"comp":"V4+","x":517.7,"y":25,"bg":22.3},{"comp":"V4+","x":517.4,"y":30,"bg":20.3},{"comp":"V4+","x":517.1,"y":39,"bg":18.2},{"comp":"V4+","x":516.8,"y":52,"bg":16},{"comp":"V4+","x":516.55,"y":61,"bg":14.3},{"comp":"V4+","x":516.45,"y":62.7,"bg":13.5},{"comp":"V4+","x":516.3,"y":60,"bg":12.4},{"comp":"V4+","x":516.1,"y":52,"bg":11},{"comp":"V4+","x":515.9,"y":40,"bg":9.9},{"comp":"V4+","x":515.7,"y":28,"bg":8.8},{"comp":"V4+","x":515.5,"y":18,"bg":8},{"comp":"V4+","x":515.3,"y":11.5,"bg":7.3},{"comp":"V4+","x":515.1,"y":8,"bg":6.8},{"comp":"V4+","x":514.9,"y":6.6,"bg":6.4}
    ]
  },
  "concat": [
    {
      "width": 275, "height": 211,
      "encoding": {
        "x": {"field": "x", "type": "quantitative", "scale": {"domain": [1066, 1076], "reverse": true, "nice": false, "zero": false},
              "axis": {"values": [1066,1067,1068,1069,1070,1071,1072,1073,1074,1075,1076], "format": "d", "labelExpr": "datum.value % 2 === 0 ? datum.label : ''", "title": null}},
        "y": {"field": "y", "type": "quantitative", "scale": {"domain": [0, 211], "nice": false, "zero": false},
              "axis": {"title": "Intensity (a.u.)", "labels": false, "ticks": false, "titlePadding": 10, "titleFontSize": 18}}
      },
      "layer": [
        {"data": {"name": "na_bg"}, "mark": {"type": "line", "color": "#1a1a1a", "strokeWidth": 1.1, "interpolate": "monotone"}, "encoding": {}},
        {"data": {"name": "na_pts"}, "mark": {"type": "circle", "color": "#ec2227", "size": 28, "opacity": 1}, "encoding": {}},
        {"data": {"name": "na_line"}, "mark": {"type": "line", "color": "#1a1a1a", "strokeWidth": 1.5, "interpolate": "monotone"}, "encoding": {}},
        {"data": {"values": [{"x": 1075.6, "y": 174, "label": "Na 1s"}]}, "mark": {"type": "text", "align": "left", "baseline": "alphabetic", "fontSize": 23, "color": "#111"}, "encoding": {"text": {"field": "label"}}}
      ]
    },
    {
      "width": 276, "height": 211,
      "encoding": {
        "x": {"field": "x", "type": "quantitative", "scale": {"domain": [510, 540], "reverse": true, "nice": false, "zero": false},
              "axis": {"values": [510,511,512,513,514,515,516,517,518,519,520,521,522,523,524,525,526,527,528,529,530,531,532,533,534,535,536,537,538,539,540], "format": "d", "labelExpr": "datum.value % 5 === 0 ? datum.label : ''", "title": null}},
        "y": {"field": "y", "type": "quantitative", "scale": {"domain": [0, 211], "nice": false, "zero": false},
              "axis": {"title": null, "labels": false, "ticks": false}}
      },
      "layer": [
        {"data": {"name": "navox_v"}, "transform": [{"filter": "datum.comp === 'V5+'"}], "mark": {"type": "area", "color": "#5cc8dc", "opacity": 0.95, "interpolate": "monotone", "line": {"color": "#4a6f7a", "strokeWidth": 0.7}}, "encoding": {"y2": {"field": "bg"}}},
        {"data": {"name": "navox_v"}, "transform": [{"filter": "datum.comp === 'V4+'"}], "mark": {"type": "area", "color": "#4b52a8", "opacity": 0.92, "interpolate": "monotone", "line": {"color": "#38407a", "strokeWidth": 0.7}}, "encoding": {"y2": {"field": "bg"}}},
        {"data": {"name": "navox_bg"}, "mark": {"type": "line", "color": "#1a1a1a", "strokeWidth": 1, "interpolate": "monotone"}, "encoding": {}},
        {"data": {"name": "navox_bg2"}, "mark": {"type": "line", "color": "#1a1a1a", "strokeWidth": 1, "interpolate": "monotone"}, "encoding": {}},
        {"data": {"name": "navox_o"}, "mark": {"type": "line", "strokeDash": [4, 3], "strokeWidth": 1.3, "interpolate": "monotone"}, "encoding": {"color": {"field": "comp", "type": "nominal", "scale": {"domain": ["lattice O", "OH", "H2O"], "range": ["#2a48c8", "#23953a", "#f0901e"]}, "legend": null}}},
        {"data": {"name": "navox"}, "mark": {"type": "line", "color": "#ec2227", "strokeWidth": 2.5}, "encoding": {}},
        {"data": {"name": "navox"}, "mark": {"type": "circle", "color": "#ec2227", "size": 13, "opacity": 1}, "encoding": {}},
        {"data": {"name": "navox"}, "mark": {"type": "line", "color": "#1a1a1a", "strokeWidth": 1.3, "interpolate": "monotone"}, "encoding": {}},
        {"data": {"values": [{"x": 541.47, "y": 169, "label": "NaVOx"}]}, "mark": {"type": "text", "align": "center", "baseline": "alphabetic", "fontSize": 28, "fontWeight": "bold", "fill": "white", "stroke": "white", "strokeWidth": 6}, "encoding": {"text": {"field": "label"}}},
        {"data": {"values": [{"x": 541.47, "y": 169, "label": "NaVOx"}]}, "mark": {"type": "text", "align": "center", "baseline": "alphabetic", "fontSize": 28, "fontWeight": "bold", "color": "#111"}, "encoding": {"text": {"field": "label"}}},
        {"data": {"values": [{"x": 538.26, "y": 108, "label": "O 1s"}, {"x": 527.79, "y": 67.7, "label": "V 2p"}, {"x": 520.07, "y": 135.3, "label": "V 2p"}]}, "mark": {"type": "text", "align": "left", "baseline": "alphabetic", "fontSize": 22, "color": "#111"}, "encoding": {"text": {"field": "label"}}},
        {"data": {"values": [{"x": 522.75, "y": 62.7, "label": "1/2"}, {"x": 515.03, "y": 130.3, "label": "3/2"}]}, "mark": {"type": "text", "align": "left", "baseline": "alphabetic", "fontSize": 16, "color": "#111"}, "encoding": {"text": {"field": "label"}}},
        {"data": {"values": [{"x": 528.88, "y": 192.7, "label": "V"}, {"x": 528.88, "y": 171, "label": "V"}, {"x": 525.1, "y": 192.7, "label": "= 29.4 %"}, {"x": 525.1, "y": 171, "label": "= 70.6 %"}]}, "mark": {"type": "text", "align": "left", "baseline": "alphabetic", "fontSize": 19, "fontWeight": "bold", "color": "#111"}, "encoding": {"text": {"field": "label"}}},
        {"data": {"values": [{"x": 527.45, "y": 195.3, "label": "4+"}, {"x": 527.45, "y": 173.5, "label": "5+"}]}, "mark": {"type": "text", "align": "left", "baseline": "alphabetic", "fontSize": 13, "fontWeight": "bold", "color": "#111"}, "encoding": {"text": {"field": "label"}}}
      ]
    },
    {
      "width": 275, "height": 212,
      "encoding": {
        "x": {"field": "x", "type": "quantitative", "scale": {"domain": [289, 300], "reverse": true, "nice": false, "zero": false},
              "axis": {"values": [289,290,291,292,293,294,295,296,297,298,299,300], "format": "d", "labelExpr": "datum.value % 2 === 0 ? datum.label : ''", "title": null}},
        "y": {"field": "y", "type": "quantitative", "scale": {"domain": [0, 212], "nice": false, "zero": false},
              "axis": {"title": "Intensity (a.u.)", "labels": false, "ticks": false, "titlePadding": 10, "titleFontSize": 18}}
      },
      "layer": [
        {"data": {"name": "k_bg"}, "mark": {"type": "line", "color": "#1a1a1a", "strokeWidth": 1.1, "interpolate": "monotone"}, "encoding": {}},
        {"data": {"name": "k_comp"}, "mark": {"type": "line", "strokeDash": [4, 3], "strokeWidth": 1.2, "interpolate": "monotone"}, "encoding": {"color": {"field": "comp", "type": "nominal", "scale": {"domain": ["K 2p1/2", "K 2p3/2"], "range": ["#d458d0", "#23953a"]}, "legend": null}}},
        {"data": {"name": "k_pts"}, "mark": {"type": "circle", "color": "#ec2227", "size": 28, "opacity": 1}, "encoding": {}},
        {"data": {"name": "k_line"}, "mark": {"type": "line", "color": "#1a1a1a", "strokeWidth": 1.5, "interpolate": "monotone"}, "encoding": {}},
        {"data": {"values": [{"x": 299.48, "y": 171, "label": "K 2p"}]}, "mark": {"type": "text", "align": "left", "baseline": "alphabetic", "fontSize": 23, "color": "#111"}, "encoding": {"text": {"field": "label"}}}
      ]
    },
    {
      "width": 276, "height": 212,
      "encoding": {
        "x": {"field": "x", "type": "quantitative", "scale": {"domain": [510, 540], "reverse": true, "nice": false, "zero": false},
              "axis": {"values": [510,511,512,513,514,515,516,517,518,519,520,521,522,523,524,525,526,527,528,529,530,531,532,533,534,535,536,537,538,539,540], "format": "d", "labelExpr": "datum.value % 5 === 0 ? datum.label : ''", "title": null}},
        "y": {"field": "y", "type": "quantitative", "scale": {"domain": [0, 212], "nice": false, "zero": false},
              "axis": {"title": null, "labels": false, "ticks": false}}
      },
      "layer": [
        {"data": {"name": "kvox_v"}, "transform": [{"filter": "datum.comp === 'V5+'"}], "mark": {"type": "area", "color": "#5cc8dc", "opacity": 0.95, "interpolate": "monotone", "line": {"color": "#4a6f7a", "strokeWidth": 0.7}}, "encoding": {"y2": {"field": "bg"}}},
        {"data": {"name": "kvox_v"}, "transform": [{"filter": "datum.comp === 'V4+'"}], "mark": {"type": "area", "color": "#4b52a8", "opacity": 0.92, "interpolate": "monotone", "line": {"color": "#38407a", "strokeWidth": 0.7}}, "encoding": {"y2": {"field": "bg"}}},
        {"data": {"name": "kvox_bg"}, "mark": {"type": "line", "color": "#1a1a1a", "strokeWidth": 1, "interpolate": "monotone"}, "encoding": {}},
        {"data": {"name": "kvox_o"}, "mark": {"type": "line", "strokeDash": [4, 3], "strokeWidth": 1.3, "interpolate": "monotone"}, "encoding": {"color": {"field": "comp", "type": "nominal", "scale": {"domain": ["lattice O", "OH"], "range": ["#2a48c8", "#23953a"]}, "legend": null}}},
        {"data": {"name": "kvox"}, "mark": {"type": "line", "color": "#ec2227", "strokeWidth": 3}, "encoding": {}},
        {"data": {"name": "kvox"}, "mark": {"type": "circle", "color": "#ec2227", "size": 14, "opacity": 1}, "encoding": {}},
        {"data": {"name": "kvox"}, "transform": [{"filter": "datum.x >= 528.3"}], "mark": {"type": "line", "color": "#1a1a1a", "strokeWidth": 1.3, "interpolate": "monotone"}, "encoding": {}},
        {"data": {"name": "kvox"}, "transform": [{"filter": "datum.x <= 519.9"}], "mark": {"type": "line", "color": "#1a1a1a", "strokeWidth": 1.3, "interpolate": "monotone"}, "encoding": {}},
        {"data": {"values": [{"x": 540.49, "y": 167, "label": "KVOx"}]}, "mark": {"type": "text", "align": "center", "baseline": "alphabetic", "fontSize": 28, "fontWeight": "bold", "fill": "white", "stroke": "white", "strokeWidth": 6}, "encoding": {"text": {"field": "label"}}},
        {"data": {"values": [{"x": 540.49, "y": 167, "label": "KVOx"}]}, "mark": {"type": "text", "align": "center", "baseline": "alphabetic", "fontSize": 28, "fontWeight": "bold", "color": "#111"}, "encoding": {"text": {"field": "label"}}},
        {"data": {"values": [{"x": 538.4, "y": 106.7, "label": "O 1s"}, {"x": 527.75, "y": 73.3, "label": "V 2p"}, {"x": 521.03, "y": 118.3, "label": "V 2p"}]}, "mark": {"type": "text", "align": "left", "baseline": "alphabetic", "fontSize": 22, "color": "#111"}, "encoding": {"text": {"field": "label"}}},
        {"data": {"values": [{"x": 522.7, "y": 67.8, "label": "1/2"}, {"x": 515.96, "y": 113, "label": "3/2"}]}, "mark": {"type": "text", "align": "left", "baseline": "alphabetic", "fontSize": 16, "color": "#111"}, "encoding": {"text": {"field": "label"}}},
        {"data": {"values": [{"x": 527.86, "y": 183.3, "label": "V"}, {"x": 527.86, "y": 161.7, "label": "V"}, {"x": 524.05, "y": 183.3, "label": "= 38.9 %"}, {"x": 524.05, "y": 161.7, "label": "= 61.1 %"}]}, "mark": {"type": "text", "align": "left", "baseline": "alphabetic", "fontSize": 19, "fontWeight": "bold", "color": "#111"}, "encoding": {"text": {"field": "label"}}},
        {"data": {"values": [{"x": 526.4, "y": 186.5, "label": "4+"}, {"x": 526.4, "y": 165, "label": "5+"}]}, "mark": {"type": "text", "align": "left", "baseline": "alphabetic", "fontSize": 13, "fontWeight": "bold", "color": "#111"}, "encoding": {"text": {"field": "label"}}}
      ]
    },
    {
      "width": 275, "height": 211,
      "encoding": {
        "x": {"field": "x", "type": "quantitative", "scale": {"domain": [397.3, 407], "reverse": true, "nice": false, "zero": false},
              "axis": {"values": [398,399,400,401,402,403,404,405,406,407], "format": "d", "labelExpr": "datum.value % 2 === 0 ? datum.label : ''", "title": "Binding Energy (eV)", "titlePadding": 14}},
        "y": {"field": "y", "type": "quantitative", "scale": {"domain": [0, 211], "nice": false, "zero": false},
              "axis": {"title": "Intensity (a.u.)", "labels": false, "ticks": false, "titlePadding": 10, "titleFontSize": 18}}
      },
      "layer": [
        {"data": {"name": "n_bg"}, "mark": {"type": "line", "color": "#1a1a1a", "strokeWidth": 1.1}, "encoding": {}},
        {"data": {"name": "n_pts"}, "mark": {"type": "circle", "color": "#ec2227", "size": 30, "opacity": 1}, "encoding": {}},
        {"data": {"name": "n_line"}, "mark": {"type": "line", "color": "#1a1a1a", "strokeWidth": 1.5, "interpolate": "monotone"}, "encoding": {}},
        {"data": {"values": [{"x": 406.53, "y": 174.3, "label": "N 1s"}]}, "mark": {"type": "text", "align": "left", "baseline": "alphabetic", "fontSize": 23, "color": "#111"}, "encoding": {"text": {"field": "label"}}}
      ]
    },
    {
      "width": 276, "height": 211,
      "encoding": {
        "x": {"field": "x", "type": "quantitative", "scale": {"domain": [510, 540], "reverse": true, "nice": false, "zero": false},
              "axis": {"values": [510,511,512,513,514,515,516,517,518,519,520,521,522,523,524,525,526,527,528,529,530,531,532,533,534,535,536,537,538,539,540], "format": "d", "labelExpr": "datum.value % 5 === 0 ? datum.label : ''", "title": "Binding Energy (eV)", "titlePadding": 14}},
        "y": {"field": "y", "type": "quantitative", "scale": {"domain": [0, 211], "nice": false, "zero": false},
              "axis": {"title": null, "labels": false, "ticks": false}}
      },
      "layer": [
        {"data": {"name": "nhvox_v"}, "transform": [{"filter": "datum.comp === 'V5+'"}], "mark": {"type": "area", "color": "#5cc8dc", "opacity": 0.95, "interpolate": "monotone", "line": {"color": "#4a6f7a", "strokeWidth": 0.7}}, "encoding": {"y2": {"field": "bg"}}},
        {"data": {"name": "nhvox_v"}, "transform": [{"filter": "datum.comp === 'V4+'"}], "mark": {"type": "area", "color": "#4b52a8", "opacity": 0.92, "interpolate": "monotone", "line": {"color": "#38407a", "strokeWidth": 0.7}}, "encoding": {"y2": {"field": "bg"}}},
        {"data": {"name": "nhvox_bg"}, "mark": {"type": "line", "color": "#1a1a1a", "strokeWidth": 1, "interpolate": "monotone"}, "encoding": {}},
        {"data": {"name": "nhvox_o"}, "mark": {"type": "line", "strokeDash": [4, 3], "strokeWidth": 1.3, "interpolate": "monotone"}, "encoding": {"color": {"field": "comp", "type": "nominal", "scale": {"domain": ["lattice O", "OH"], "range": ["#2a48c8", "#23953a"]}, "legend": null}}},
        {"data": {"name": "nhvox"}, "mark": {"type": "line", "color": "#ec2227", "strokeWidth": 3}, "encoding": {}},
        {"data": {"name": "nhvox"}, "mark": {"type": "circle", "color": "#ec2227", "size": 14, "opacity": 1}, "encoding": {}},
        {"data": {"name": "nhvox"}, "transform": [{"filter": "datum.x >= 528.3"}], "mark": {"type": "line", "color": "#1a1a1a", "strokeWidth": 1.3, "interpolate": "monotone"}, "encoding": {}},
        {"data": {"name": "nhvox"}, "transform": [{"filter": "datum.x <= 519.9"}], "mark": {"type": "line", "color": "#1a1a1a", "strokeWidth": 1.3, "interpolate": "monotone"}, "encoding": {}},
        {"data": {"values": [{"x": 541.35, "y": 171, "label": "NHVOx"}]}, "mark": {"type": "text", "align": "center", "baseline": "alphabetic", "fontSize": 28, "fontWeight": "bold", "fill": "white", "stroke": "white", "strokeWidth": 6}, "encoding": {"text": {"field": "label"}}},
        {"data": {"values": [{"x": 541.35, "y": 171, "label": "NHVOx"}]}, "mark": {"type": "text", "align": "center", "baseline": "alphabetic", "fontSize": 28, "fontWeight": "bold", "color": "#111"}, "encoding": {"text": {"field": "label"}}},
        {"data": {"values": [{"x": 538.1, "y": 110, "label": "O 1s"}, {"x": 527.66, "y": 66, "label": "V 2p"}, {"x": 519.73, "y": 109.3, "label": "V 2p"}]}, "mark": {"type": "text", "align": "left", "baseline": "alphabetic", "fontSize": 22, "color": "#111"}, "encoding": {"text": {"field": "label"}}},
        {"data": {"values": [{"x": 522.65, "y": 61, "label": "1/2"}, {"x": 514.72, "y": 104.3, "label": "3/2"}]}, "mark": {"type": "text", "align": "left", "baseline": "alphabetic", "fontSize": 16, "color": "#111"}, "encoding": {"text": {"field": "label"}}},
        {"data": {"values": [{"x": 528.2, "y": 179.3, "label": "V"}, {"x": 528.2, "y": 155.5, "label": "V"}, {"x": 524.42, "y": 179.3, "label": "= 41.6 %"}, {"x": 524.42, "y": 155.5, "label": "= 58.4 %"}]}, "mark": {"type": "text", "align": "left", "baseline": "alphabetic", "fontSize": 19, "fontWeight": "bold", "color": "#111"}, "encoding": {"text": {"field": "label"}}},
        {"data": {"values": [{"x": 526.75, "y": 182.3, "label": "4+"}, {"x": 526.75, "y": 158.5, "label": "5+"}]}, "mark": {"type": "text", "align": "left", "baseline": "alphabetic", "fontSize": 13, "fontWeight": "bold", "color": "#111"}, "encoding": {"text": {"field": "label"}}}
      ]
    }
  ]
}
